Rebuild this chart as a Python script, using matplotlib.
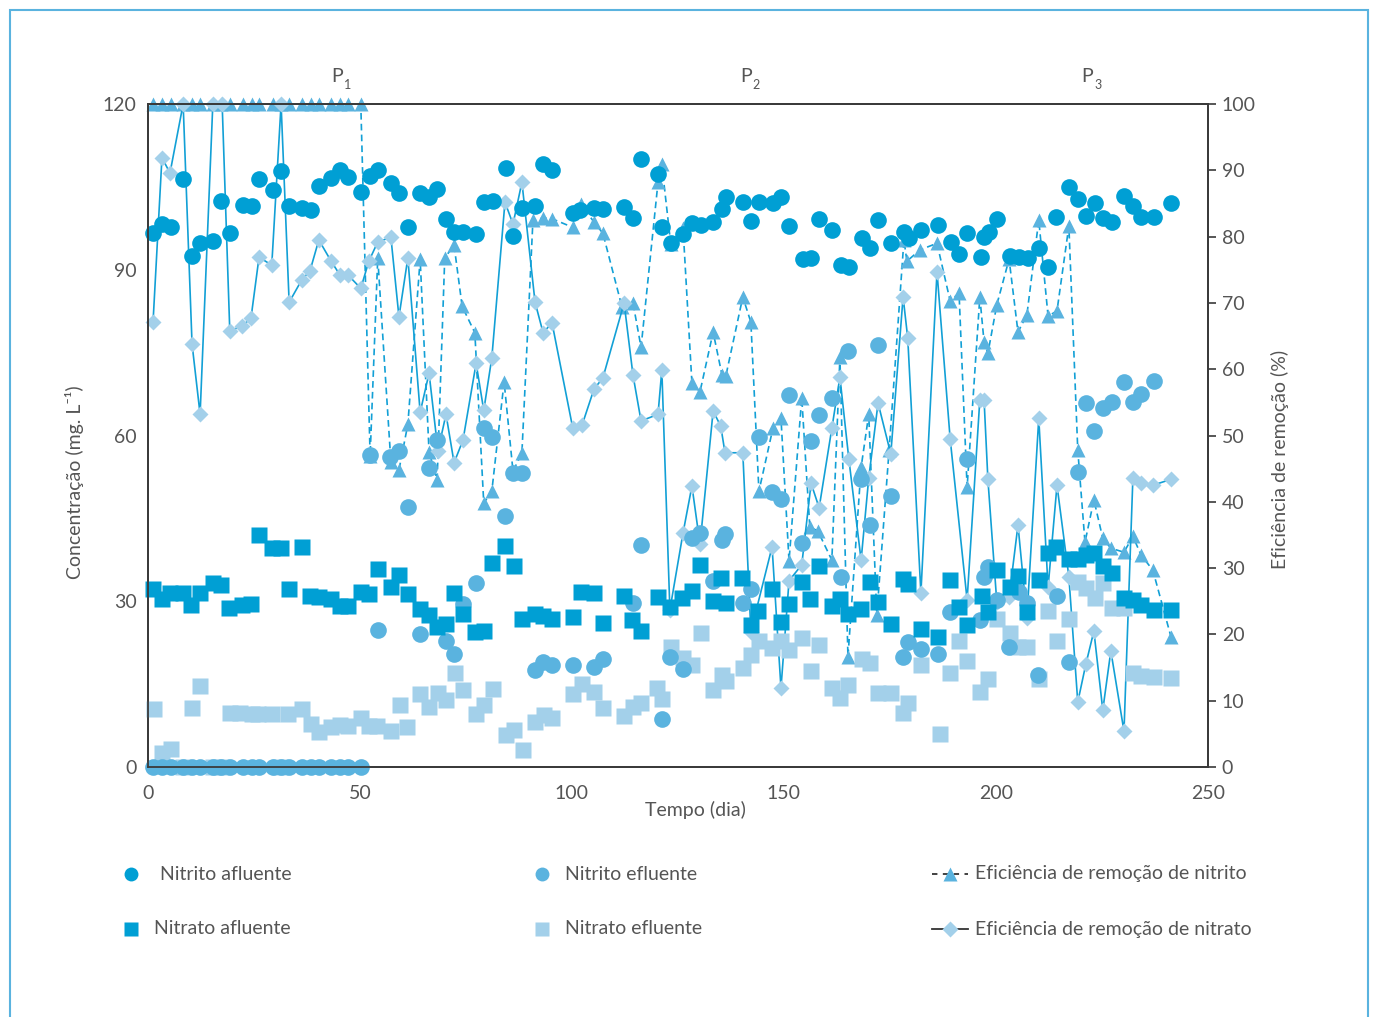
# Nitrito / nitrato ao longo do tempo, com eficiência de remoção no eixo direito
import matplotlib
matplotlib.use("Agg")
import matplotlib.pyplot as plt
from matplotlib.lines import Line2D
from matplotlib.patches import Rectangle

plt.rcParams['font.family'] = ['Lato', 'DejaVu Sans']

# ---- dados -------------------------------------------------------------
nitrito_afl_dia = [1.2, 3.3, 5.4, 8.3, 10.4, 12.3, 15.3, 17.2, 19.3, 22.4,
                   24.5, 26.2, 29.5, 31.4, 33.3, 36.3, 38.4, 40.3, 43.2, 45.3,
                   47.2, 50.2, 52.4, 54.2, 57.3, 59.2, 61.3, 64.2, 66.3, 68.2,
                   70.3, 72.2, 74.3, 77.4, 79.2, 81.4, 84.4, 86.1, 88.2, 91.3,
                   93.2, 95.3, 100.2, 101.9, 105.2, 107.3, 112.3, 114.4, 116.3, 120.3,
                   121.2, 123.3, 126.2, 128.3, 130.4, 133.3, 135.4, 136.3, 140.3, 142.2,
                   144.1, 147.4, 149.3, 151.2, 154.5, 156.4, 158.3, 161.3, 163.4, 165.3,
                   168.4, 170.3, 172.2, 175.2, 178.3, 179.5, 182.3, 186.3, 189.4, 191.3,
                   193.2, 196.5, 197.2, 198.3, 200.2, 203.3, 205.4, 207.5, 210.1, 212.3,
                   214.2, 217.2, 219.3, 221.2, 223.3, 225.2, 227.4, 230.2, 232.3, 234.2,
                   237.3, 241.3]
nitrito_afl = [96.7, 98.3, 97.7, 106.4, 92.5, 94.8, 95.2, 102.4, 96.7, 101.7,
               101.5, 106.4, 104.4, 107.9, 101.5, 101.2, 100.8, 105.2, 106.6, 108.1,
               106.8, 104.1, 107.0, 108.1, 105.7, 103.9, 97.7, 103.9, 103.2, 104.6,
               99.2, 96.8, 96.8, 96.5, 102.3, 102.4, 108.4, 96.1, 101.2, 101.5,
               109.1, 108.1, 100.3, 100.8, 101.2, 101.0, 101.4, 99.4, 110.0, 107.3,
               97.7, 94.8, 96.5, 98.5, 98.1, 98.6, 101.0, 103.2, 102.3, 98.8,
               102.3, 102.1, 103.2, 97.9, 91.9, 92.1, 99.2, 97.2, 90.9, 90.5,
               95.7, 93.9, 99.0, 94.8, 96.8, 95.7, 97.2, 98.1, 95.0, 92.9,
               96.7, 92.3, 95.9, 96.8, 99.2, 92.5, 92.3, 92.1, 93.9, 90.5,
               99.5, 105.0, 102.8, 99.7, 102.1, 99.4, 98.6, 103.3, 101.5, 99.5,
               99.5, 102.1]

nitrito_efl_dia = [1.2, 3.3, 5.4, 8.3, 10.4, 12.3, 15.3, 17.2, 19.3, 22.4,
                   24.5, 26.2, 29.5, 31.4, 33.3, 36.3, 38.4, 40.3, 43.2, 45.3,
                   47.2, 50.2,
                   52.4, 54.2, 57.1, 59.2, 61.3, 64.2, 66.3, 68.2, 70.3, 72.2,
                   74.3, 77.4, 79.2, 81.1, 84.2, 86.1, 88.2, 91.3, 93.2, 95.3,
                   100.2, 105.2, 107.3, 114.4, 116.3, 121.2, 123.1, 126.2, 128.3, 130.2,
                   133.3, 135.4, 136.1, 140.3, 142.2, 144.1, 147.2, 149.3, 151.2, 154.2,
                   156.4, 158.3, 161.3, 163.4, 165.1, 168.2, 170.3, 172.2, 175.2, 178.1,
                   179.2, 182.3, 186.3, 189.2, 193.2, 196.2, 197.2, 198.1, 200.2, 203.1,
                   205.4, 207.3, 209.9, 214.4, 217.2, 219.3, 221.2, 223.1, 225.2, 227.4,
                   230.2, 232.3, 234.2, 237.3]
nitrito_efl = [0, 0, 0, 0, 0, 0, 0, 0, 0, 0,
               0, 0, 0, 0, 0, 0, 0, 0, 0, 0,
               0, 0,
               56.5, 24.8, 56.1, 57.2, 47.1, 24.1, 54.1, 59.2, 22.8, 20.5,
               29.5, 33.3, 61.4, 59.7, 45.4, 53.2, 53.2, 17.6, 19.0, 18.5,
               18.5, 18.1, 19.5, 29.7, 40.2, 8.7, 19.9, 17.7, 41.4, 42.4,
               33.7, 41.1, 42.2, 29.7, 32.2, 59.7, 49.8, 48.5, 67.3, 40.5,
               59.0, 63.7, 66.8, 34.4, 75.3, 52.1, 43.8, 76.4, 49.0, 19.9,
               22.6, 21.4, 20.5, 28.1, 55.7, 26.6, 34.4, 36.2, 30.2, 21.7,
               31.7, 29.7, 16.7, 30.9, 19.0, 53.4, 65.9, 60.8, 65.0, 66.1,
               69.7, 66.1, 67.5, 69.9]

nitrato_afl_dia = [1.2, 3.3, 5.2, 8.3, 10.1, 12.3, 15.3, 17.2, 19.1, 22.2,
                   24.3, 26.2, 29.2, 31.4, 33.3, 36.3, 38.2, 40.3, 43.2, 45.3,
                   47.2, 50.2, 52.1, 54.2, 57.3, 59.2, 61.3, 64.2, 66.3, 68.2,
                   70.3, 72.2, 74.3, 77.1, 79.2, 81.1, 84.2, 86.3, 88.2, 91.3,
                   93.2, 95.3, 100.2, 102.1, 105.2, 107.3, 112.3, 114.2, 116.3, 120.3,
                   123.1, 125.9, 128.3, 130.2, 133.3, 135.1, 136.3, 140.1, 142.2, 143.9,
                   147.2, 149.3, 151.2, 154.2, 156.1, 158.3, 161.3, 163.2, 165.1, 168.2,
                   170.3, 172.2, 175.2, 178.1, 179.2, 182.3, 186.3, 189.2, 191.3, 193.2,
                   196.7, 198.1, 200.2, 203.3, 205.2, 207.3, 210.1, 212.3, 214.2, 217.2,
                   219.3, 221.2, 223.1, 225.2, 227.4, 230.2, 232.3, 234.2, 237.3, 241.3]
nitrato_afl = [32.2, 30.4, 31.5, 31.5, 29.3, 31.5, 33.3, 32.9, 28.8, 29.3,
               29.5, 42.0, 39.6, 39.6, 32.2, 39.8, 30.9, 30.8, 30.4, 29.1,
               29.1, 31.7, 31.3, 35.8, 32.6, 34.8, 31.3, 28.6, 27.5, 25.3,
               25.9, 31.5, 27.7, 24.4, 24.6, 36.9, 40.0, 36.4, 26.8, 27.7,
               27.3, 26.8, 27.1, 31.7, 31.5, 26.1, 30.9, 26.6, 24.6, 30.8,
               29.0, 30.6, 31.9, 36.6, 30.0, 34.2, 29.7, 34.2, 25.7, 28.2,
               32.2, 26.2, 29.5, 33.5, 30.4, 36.4, 29.1, 30.4, 27.7, 28.6,
               33.5, 29.9, 25.9, 34.0, 33.1, 25.0, 23.5, 33.8, 29.0, 25.7,
               30.9, 28.1, 35.7, 32.6, 34.6, 28.1, 33.8, 38.7, 39.8, 37.6,
               37.6, 38.4, 38.7, 36.4, 35.1, 30.6, 30.2, 29.3, 28.4, 28.4]

nitrato_efl_dia = [1.4, 3.3, 5.4, 8.3, 10.4, 12.3, 15.3, 17.2, 19.3, 21.7,
                   24.5, 25.9, 29.2, 31.1, 33.0, 36.3, 38.4, 40.3, 43.2, 45.3,
                   47.2, 50.2, 52.1, 54.0, 57.3, 59.4, 61.1, 64.2, 66.3, 68.4,
                   70.3, 72.4, 74.3, 77.4, 79.2, 81.4, 84.4, 86.3, 88.4, 91.3,
                   93.4, 95.3, 100.2, 102.4, 105.2, 107.3, 112.3, 114.4, 116.3, 120.0,
                   121.2, 123.3, 126.2, 128.3, 130.4, 133.3, 135.4, 136.3, 140.3, 142.2,
                   144.1, 147.2, 149.3, 151.2, 154.2, 156.4, 158.3, 161.3, 163.2, 165.1,
                   168.4, 170.3, 172.2, 175.2, 178.1, 179.2, 182.3, 186.8, 189.2, 191.3,
                   193.2, 196.2, 198.1, 200.2, 203.3, 205.2, 207.3, 210.1, 212.3, 214.4,
                   217.2, 219.3, 221.2, 223.3, 225.2, 227.4, 230.2, 232.3, 234.2, 237.3,
                   241.3]
nitrato_efl = [10.5, 2.5, 3.3, 0, 10.7, 14.7, 0, 0, 9.8, 9.8,
               9.6, 9.6, 9.6, 0, 9.6, 10.5, 7.8, 6.3, 7.2, 7.6,
               7.4, 8.9, 7.4, 7.4, 6.5, 11.2, 7.2, 13.2, 10.9, 13.4,
               12.1, 17.0, 13.9, 9.6, 11.2, 14.1, 5.8, 6.7, 3.1, 8.1,
               9.4, 8.9, 13.2, 15.0, 13.6, 10.7, 9.2, 10.9, 11.6, 14.3,
               12.3, 21.7, 19.7, 18.5, 24.3, 13.9, 16.7, 15.6, 17.9, 20.3,
               22.8, 21.5, 22.8, 21.2, 23.3, 17.4, 22.1, 14.3, 12.5, 14.8,
               19.5, 18.8, 13.4, 13.4, 9.8, 11.6, 18.5, 6.0, 17.0, 22.8,
               19.2, 13.6, 15.9, 26.8, 24.3, 21.7, 21.7, 15.9, 28.2, 22.8,
               26.8, 33.5, 32.4, 30.6, 33.3, 28.8, 28.8, 17.0, 16.5, 16.3,
               16.1]

ef_nitrito_dia = [1.2, 3.3, 5.4, 8.3, 10.4, 12.3, 15.3, 17.2, 19.3, 22.4,
                  24.5, 26.2, 29.5, 31.4, 33.3, 36.3, 38.4, 40.3, 43.2, 45.3,
                  47.2, 50.2,
                  52.4, 54.2, 57.3, 59.2, 61.3, 64.2, 66.3, 68.2, 70.0, 72.2,
                  74.1, 77.1, 79.2, 81.1, 84.0, 86.1, 88.2, 90.8, 93.2, 95.3,
                  100.2, 102.1, 105.2, 107.3, 111.8, 114.4, 116.3, 120.3, 121.2, 123.3,
                  126.2, 128.3, 130.2, 133.3, 135.4, 136.3, 140.3, 142.2, 144.1, 147.4,
                  149.3, 151.2, 154.2, 156.1, 158.0, 161.3, 163.2, 165.1, 168.2, 170.0,
                  171.9, 174.8, 178.3, 179.0, 182.1, 186.1, 189.2, 191.3, 193.2, 196.2,
                  197.2, 198.1, 200.2, 203.1, 205.2, 207.3, 210.1, 212.3, 214.4, 217.2,
                  219.3, 221.0, 223.1, 225.2, 227.1, 230.2, 232.3, 234.2, 237.0, 241.3]
ef_nitrito = [100, 100, 100, 100, 100, 100, 100, 100, 100, 100,
              100, 100, 100, 100, 100, 100, 100, 100, 100, 100,
              100, 100,
              46.9, 76.8, 46.0, 44.8, 51.7, 76.6, 47.5, 43.3, 76.8, 78.7,
              69.5, 65.5, 39.8, 41.6, 58.1, 44.6, 47.4, 82.5, 82.8, 82.7,
              81.4, 84.9, 82.2, 80.5, 69.4, 70.0, 63.3, 88.2, 90.9, 78.9,
              81.3, 57.9, 56.6, 65.6, 59.1, 59.0, 70.9, 67.1, 41.6, 51.1,
              52.6, 31.1, 55.7, 36.2, 35.6, 31.2, 61.8, 16.6, 45.2, 53.2,
              22.9, 47.8, 79.5, 76.3, 78.0, 79.0, 70.3, 71.5, 42.2, 70.9,
              64.1, 62.4, 69.7, 76.6, 65.6, 68.2, 82.5, 68.0, 68.8, 81.6,
              47.8, 33.9, 40.3, 34.5, 33.0, 32.4, 34.8, 32.0, 29.7, 19.6]

ef_nitrato_dia = [1.2, 3.3, 5.2, 8.3, 10.4, 12.3, 15.3, 17.5, 19.3, 22.2,
                  24.3, 26.2, 29.2, 31.4, 33.3, 36.3, 38.2, 40.3, 43.2, 45.3,
                  47.2, 50.2, 52.1, 54.2, 57.3, 59.2, 61.3, 64.2, 66.3, 68.4,
                  70.3, 72.2, 74.3, 77.4, 79.2, 81.1, 84.2, 86.1, 88.2, 91.3,
                  93.2, 95.3, 100.2, 102.4, 105.2, 107.3, 112.3, 114.4, 116.3, 120.3,
                  121.2, 123.1, 126.2, 128.3, 130.2, 133.3, 135.1, 136.1, 140.3, 142.2,
                  147.2, 149.3, 151.2, 154.2, 156.4, 158.3, 161.3, 163.2, 165.3, 168.2,
                  170.0, 172.2, 175.2, 178.1, 179.2, 182.3, 186.1, 189.2, 193.2, 196.2,
                  197.2, 198.1, 200.2, 203.1, 205.2, 207.3, 210.1, 212.3, 214.4, 217.2,
                  219.3, 221.2, 223.1, 225.2, 227.1, 230.2, 232.3, 234.2, 237.0, 241.3]
ef_nitrato = [67.1, 91.9, 89.6, 100, 63.8, 53.2, 100, 100, 65.8, 66.5,
              67.7, 76.9, 75.7, 100, 70.1, 73.5, 74.8, 79.5, 76.3, 74.2,
              74.2, 72.2, 76.3, 79.2, 79.9, 67.9, 76.8, 53.5, 59.4, 47.7,
              53.2, 45.9, 49.3, 60.9, 53.8, 61.7, 85.2, 81.9, 88.2, 70.1,
              65.5, 67.0, 51.1, 51.6, 57.0, 58.7, 70.0, 59.1, 52.2, 53.2,
              59.9, 23.7, 35.3, 42.4, 33.6, 53.7, 51.4, 47.4, 47.4, 20.4,
              33.2, 11.9, 28.1, 30.5, 42.8, 39.1, 51.1, 58.8, 46.5, 31.2,
              43.6, 54.9, 47.2, 70.9, 64.7, 26.2, 74.7, 49.5, 25.2, 55.4,
              55.4, 43.4, 24.9, 25.6, 36.5, 22.5, 52.6, 27.1, 42.5, 28.7,
              9.8, 15.5, 20.5, 8.6, 17.5, 5.4, 43.6, 42.8, 42.5, 43.4]

fases = ["P", "P", "P"]
fases_idx = ["1", "2", "3"]
fases_dia = [46, 142.5, 223]

# ---- cores -------------------------------------------------------------
AZUL = "#009fd4"
AZUL_MED = "#5ab3df"
AZUL_CLARO = "#a3d0ea"
LINHA = "#12a0d6"
TEXTO = "#555555"

fig = plt.figure(figsize=(13.75, 10.17), dpi=100)
ax = fig.add_axes([0.1076, 0.2458, 0.7709, 0.6519])
ax_ef = ax.twinx()
ax.set_zorder(ax_ef.get_zorder() + 1)
ax.patch.set_visible(False)

# eficiências (eixo direito, atrás)
ax_ef.plot(ef_nitrito_dia, ef_nitrito, color=LINHA, lw=1.2, ls=(0, (4, 2.5)),
           marker="^", ms=10.5, mfc=AZUL_MED, mec="none", clip_on=False)
ax_ef.plot(ef_nitrato_dia, ef_nitrato, color=LINHA, lw=1.2, ls="-",
           marker="D", ms=8.5, mfc=AZUL_CLARO, mec="none", clip_on=False)

# concentrações (eixo esquerdo, frente)
ax.plot(nitrato_efl_dia, nitrato_efl, ls="none", marker="s", ms=11,
        mfc=AZUL_CLARO, mec="none", clip_on=False)
ax.plot(nitrito_efl_dia, nitrito_efl, ls="none", marker="o", ms=12,
        mfc=AZUL_MED, mec="none", clip_on=False)
ax.plot(nitrato_afl_dia, nitrato_afl, ls="none", marker="s", ms=11,
        mfc=AZUL, mec="none", clip_on=False)
ax.plot(nitrito_afl_dia, nitrito_afl, ls="none", marker="o", ms=12,
        mfc=AZUL, mec="none", clip_on=False)

ax.set_xlim(0, 250)
ax.set_ylim(0, 120)
ax_ef.set_ylim(0, 100)
ax.set_xticks(range(0, 251, 50))
ax.set_yticks(range(0, 121, 30))
ax_ef.set_yticks(range(0, 101, 10))

for a in (ax, ax_ef):
    for s in a.spines.values():
        s.set_color("#3a3a3a")
        s.set_linewidth(1.3)
ax.tick_params(axis="both", length=0, labelsize=14, labelcolor=TEXTO)
ax.tick_params(axis="x", pad=13)
ax.tick_params(axis="y", pad=8)
ax_ef.tick_params(axis="y", length=6, width=1.2, color="#3a3a3a",
                  direction="out", labelsize=14, labelcolor=TEXTO, pad=4)

# rótulos dos eixos
fig.text(0.5055, 0.204, "Tempo (dia)", ha="center", va="center",
         fontsize=14, color=TEXTO)
fig.text(0.0545, 0.526, "Concentração (mg. L⁻¹)", rotation=90, ha="center",
         va="center", fontsize=14, color=TEXTO)
fig.text(0.931, 0.548, "Eficiência de remoção (%)", rotation=90, ha="center",
         va="center", fontsize=14, color=TEXTO)

# fases
for p, i, d in zip(fases, fases_idx, fases_dia):
    ax.annotate(p, xy=(d, 1), xycoords=("data", "axes fraction"),
                xytext=(0, 20), textcoords="offset points", ha="right",
                va="center", fontsize=14, color=TEXTO)
    ax.annotate(i, xy=(d, 1), xycoords=("data", "axes fraction"),
                xytext=(0.5, 14), textcoords="offset points", ha="left",
                va="center", fontsize=9, color=TEXTO)

# legenda
W, H = 1375.0, 1017.0
def fx(px):
    return px / W
def fy(py):
    return 1 - py / H

entradas = [
    (131, 874, 160, "o", AZUL, None, "Nitrito afluente"),
    (131, 929, 154, "s", AZUL, None, "Nitrato afluente"),
    (542, 874, 565, "o", AZUL_MED, None, "Nitrito efluente"),
    (542, 929, 565, "s", AZUL_CLARO, None, "Nitrato efluente"),
    (950, 874, 975, "^", AZUL_MED, (0, (3, 3)), "Eficiência de remoção de nitrito"),
    (950, 929, 975, "D", AZUL_CLARO, "-", "Eficiência de remoção de nitrato"),
]
for mx, my, tx, mk, cor, estilo, texto in entradas:
    if estilo is not None:
        fig.add_artist(Line2D([fx(mx - 18), fx(mx + 18)], [fy(my), fy(my)],
                              transform=fig.transFigure, color="#333333",
                              lw=1.3, ls=estilo))
    ms = {"o": 10, "s": 10, "^": 10, "D": 8}[mk]
    fig.add_artist(Line2D([fx(mx)], [fy(my)], transform=fig.transFigure,
                          marker=mk, ms=ms, mfc=cor, mec="none", ls="none"))
    fig.text(fx(tx), fy(my), texto, ha="left", va="center", fontsize=14,
             color=TEXTO)

# moldura
fig.add_artist(Rectangle((fx(10), -0.05), fx(1358), 1.05 - 10 / H,
                         transform=fig.transFigure, fill=False,
                         edgecolor=AZUL_MED, lw=1.5))

fig.savefig("out.png", dpi=100, facecolor="white")
